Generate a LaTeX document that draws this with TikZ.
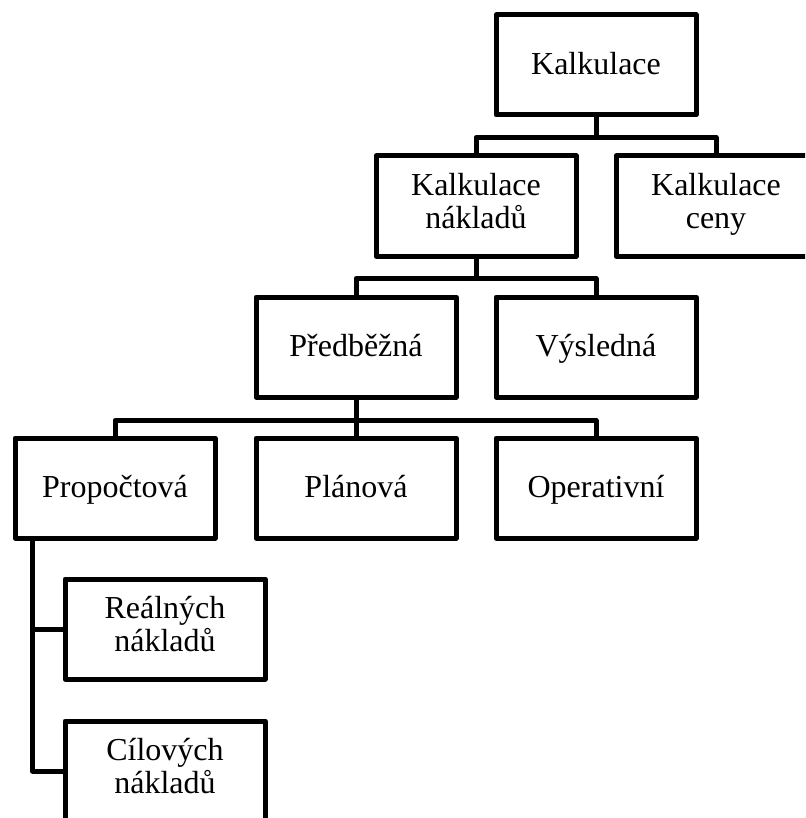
\documentclass[tikz,border=0pt]{standalone}
\usepackage{fontspec}
\setmainfont{Liberation Serif}

\newcommand{\boxstrut}{\rule[-11pt]{0pt}{41pt}}

\tikzset{
	box/.style={draw, line width=5pt, line join=round, minimum width=200pt, minimum height=100pt,
		inner sep=0pt, align=center, font=\fontsize{32}{33}\selectfont,
		execute at begin node=\boxstrut, execute at end node=\boxstrut},
	link/.style={line width=5pt, line join=round}
}

\begin{document}
\begin{tikzpicture}[x=1pt, y=-1pt]

\clip (0,0) rectangle (805,818);


\node[box] (kalk) at (596, 65) {Kalkulace};


\node[box] (naklady) at (476, 206) {Kalkulace\\nákladů};
\node[box] (ceny) at (716, 206) {Kalkulace\\ceny};


\node[box] (predb) at (356, 347) {Předběžná};
\node[box] (vysl) at (596, 347) {Výsledná};


\node[box] (propoc) at (115, 488) {Propočtová};
\node[box] (plan) at (356, 488) {Plánová};
\node[box] (oper) at (596, 488) {Operativní};


\node[box] (real) at (165, 629) {Reálných\\nákladů};
\node[box] (cil) at (165, 771) {Cílových\\nákladů};




\draw[link] (kalk.south) -- ++(0,20) -| (naklady.north);
\draw[link] (kalk.south) -- ++(0,20) -| (ceny.north);


\draw[link] (naklady.south) -- ++(0,20) -| (predb.north);
\draw[link] (naklady.south) -- ++(0,20) -| (vysl.north);


\foreach \kid in {propoc, plan, oper}
{
	\draw[link] (predb.south) -- ++(0,21) -| (\kid.north);
}


\coordinate (kmen) at ([xshift=20pt]propoc.south west);

\draw[link] (kmen) |- (real.west);
\draw[link] (kmen) |- (cil.west);

\end{tikzpicture}
\end{document}
